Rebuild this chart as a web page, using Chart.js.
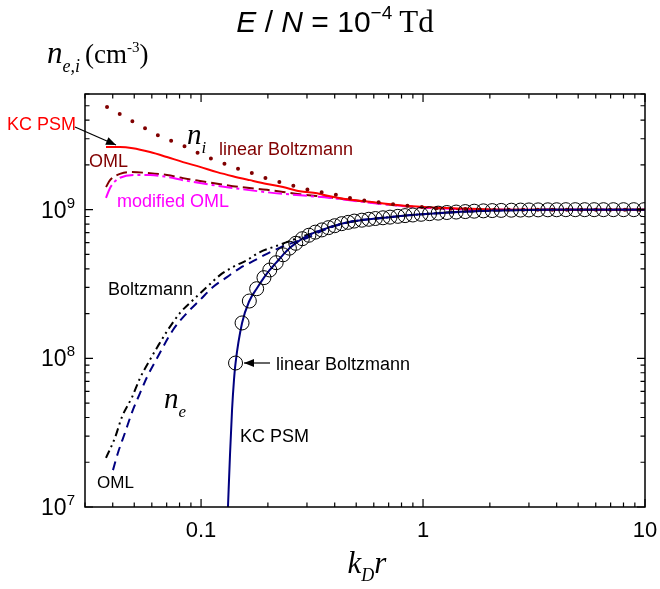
<!DOCTYPE html>
<html><head><meta charset="utf-8">
<script src="https://cdn.jsdelivr.net/npm/chart.js@4/dist/chart.umd.min.js"></script>
<style>html,body{margin:0;padding:0;background:#fff;}</style>
</head><body>
<canvas id="c" width="660" height="589"></canvas>
<script>
// ---- tick labels ----
const xTickLabels = [0.1, 1, 10];
const yTickLabels = [1e7, 1e8, 1e9];

// ---- ion density n_i ----
const niLinBoltzX = [0.0377, 0.0509, 0.0589, 0.0681, 0.0804, 0.0929, 0.107, 0.145, 0.170, 0.200, 0.234, 0.273, 0.327, 0.381, 0.445, 0.531, 0.620, 0.732, 0.855, 1.02, 1.18, 1.5, 2, 3, 5, 10];
const niLinBoltzY = [4.90e9, 3.82e9, 3.38e9, 3.03e9, 2.76e9, 2.48e9, 2.26e9, 1.90e9, 1.76e9, 1.61e9, 1.51e9, 1.42e9, 1.33e9, 1.29e9, 1.215e9, 1.16e9, 1.125e9, 1.09e9, 1.06e9, 1.04e9, 1.02e9, 1.01e9, 1.0e9, 1e9, 1e9, 1e9];

const niKcX = [0.0373, 0.0431, 0.0493, 0.0589, 0.0702, 0.0829, 0.0989, 0.118, 0.139, 0.166, 0.198, 0.234, 0.279, 0.333, 0.381, 0.445, 0.640, 0.855, 1.47, 2.5, 5, 10];
const niKcY = [2.64e9, 2.64e9, 2.59e9, 2.44e9, 2.26e9, 2.09e9, 1.94e9, 1.79e9, 1.68e9, 1.58e9, 1.49e9, 1.42e9, 1.33e9, 1.29e9, 1.23e9, 1.18e9, 1.11e9, 1.06e9, 1.02e9, 1.0e9, 1e9, 1e9];

const niOmlX = [0.0373, 0.0389, 0.0409, 0.0431, 0.0478, 0.0589, 0.0702, 0.0829, 0.0989, 0.139, 0.198, 0.279, 0.381, 0.531, 0.75, 1.18, 2, 10];
const niOmlY = [1.42e9, 1.58e9, 1.68e9, 1.74e9, 1.79e9, 1.76e9, 1.71e9, 1.63e9, 1.56e9, 1.44e9, 1.36e9, 1.27e9, 1.21e9, 1.14e9, 1.07e9, 1.02e9, 1.0e9, 1e9];

const niModOmlX = [0.0373, 0.0389, 0.0409, 0.0431, 0.0504, 0.0589, 0.0702, 0.0829, 0.0989, 0.139, 0.198, 0.279, 0.381, 0.531, 0.75, 1.18, 2, 10];
const niModOmlY = [1.20e9, 1.40e9, 1.55e9, 1.64e9, 1.71e9, 1.71e9, 1.66e9, 1.58e9, 1.51e9, 1.40e9, 1.31e9, 1.25e9, 1.20e9, 1.13e9, 1.07e9, 1.02e9, 1.0e9, 1e9];

// ---- electron density n_e ----
const neKcX = [0.1322, 0.135, 0.1379, 0.1407, 0.143, 0.153, 0.165, 0.178, 0.192, 0.204, 0.218, 0.234, 0.25, 0.267, 0.286, 0.306, 0.327, 0.35, 0.375, 0.40, 0.43, 0.46, 0.49, 0.53, 0.61, 0.71, 0.83, 0.98, 1.17, 1.41, 1.70, 2.05, 2.5, 3.0, 4.0, 6.0, 10];
const neKcY = [1.0e7, 2.24e7, 4.49e7, 7.15e7, 9.3e7, 1.73e8, 2.43e8, 2.94e8, 3.49e8, 3.93e8, 4.40e8, 4.97e8, 5.51e8, 5.94e8, 6.38e8, 6.73e8, 7.06e8, 7.31e8, 7.57e8, 7.80e8, 8.05e8, 8.22e8, 8.38e8, 8.50e8, 8.72e8, 8.91e8, 9.12e8, 9.31e8, 9.48e8, 9.64e8, 9.77e8, 9.86e8, 9.92e8, 9.96e8, 9.99e8, 1e9, 1e9];

const neLinBoltzX = [0.143, 0.153, 0.165, 0.178, 0.192, 0.204, 0.218, 0.234, 0.25, 0.267, 0.286, 0.306, 0.327, 0.35, 0.375, 0.40, 0.43, 0.46, 0.49, 0.53, 0.57, 0.61, 0.66, 0.71, 0.77, 0.83, 0.90, 0.98, 1.07, 1.17, 1.28, 1.41, 1.55, 1.70, 1.87, 2.05, 2.25, 2.5, 2.75, 3.0, 3.3, 3.65, 4.0, 4.4, 4.85, 5.35, 5.9, 6.5, 7.2, 8.0, 8.9, 9.9];
const neLinBoltzY = [9.3e7, 1.73e8, 2.43e8, 2.94e8, 3.49e8, 3.93e8, 4.40e8, 4.97e8, 5.51e8, 5.94e8, 6.38e8, 6.73e8, 7.06e8, 7.31e8, 7.57e8, 7.80e8, 8.05e8, 8.22e8, 8.38e8, 8.50e8, 8.62e8, 8.72e8, 8.82e8, 8.91e8, 9.02e8, 9.12e8, 9.21e8, 9.31e8, 9.40e8, 9.48e8, 9.57e8, 9.64e8, 9.71e8, 9.77e8, 9.82e8, 9.86e8, 9.89e8, 9.92e8, 9.94e8, 9.96e8, 9.97e8, 9.98e8, 9.99e8, 1e9, 1e9, 1e9, 1e9, 1e9, 1e9, 1e9, 1e9, 1e9];

const neOmlX = [0.0401, 0.0422, 0.0454, 0.0489, 0.0531, 0.0571, 0.0633, 0.0747, 0.0864, 0.0989, 0.1132, 0.1308, 0.1497, 0.1714, 0.198, 0.2267, 0.2594, 0.300, 0.35, 0.40, 0.49, 0.61, 0.83, 1.17, 1.70, 2.5, 4.0, 10];
const neOmlY = [1.77e7, 2.31e7, 3.15e7, 4.35e7, 5.84e7, 7.49e7, 1.0e8, 1.55e8, 2.02e8, 2.47e8, 3.02e8, 3.52e8, 4.05e8, 4.50e8, 5.05e8, 5.55e8, 6.0e8, 6.45e8, 7.2e8, 7.75e8, 8.38e8, 8.72e8, 9.12e8, 9.48e8, 9.77e8, 9.92e8, 9.99e8, 1e9];

const neBoltzX = [0.0373, 0.0409, 0.0440, 0.0489, 0.0531, 0.0589, 0.0633, 0.0702, 0.0804, 0.0920, 0.1063, 0.1217, 0.139, 0.161, 0.1842, 0.211, 0.2438, 0.279, 0.319, 0.369, 0.43, 0.53, 0.71, 0.98, 1.41, 2.05, 3.0, 4.4, 10];
const neBoltzY = [2.14e7, 2.91e7, 4.03e7, 5.49e7, 7.37e7, 9.8e7, 1.18e8, 1.52e8, 2.02e8, 2.47e8, 3.02e8, 3.63e8, 4.11e8, 4.58e8, 5.19e8, 5.60e8, 6.05e8, 6.54e8, 6.96e8, 7.52e8, 8.05e8, 8.50e8, 8.91e8, 9.31e8, 9.64e8, 9.86e8, 9.96e8, 1e9, 1e9];

const pts = (xs, ys) => xs.map((v, i) => ({x: v, y: ys[i]}));

function line(label, xs, ys, color, dash, width, order, extra) {
  return Object.assign({
    label, data: pts(xs, ys), showLine: true, borderColor: color, backgroundColor: color,
    borderWidth: width, borderDash: dash, pointRadius: 0, pointHoverRadius: 0,
    cubicInterpolationMode: 'monotone', order, fill: false
  }, extra || {});
}

const datasets = [
  {label: 'n_e linear Boltzmann', data: pts(neLinBoltzX, neLinBoltzY), showLine: false,
   pointRadius: 7, pointStyle: 'circle', pointBorderColor: '#000', pointBackgroundColor: 'rgba(0,0,0,0)',
   pointBorderWidth: 1, borderColor: '#000', order: 0},
  line('n_e KC PSM', neKcX, neKcY, '#000080', [], 2, 1),
  line('n_i linear Boltzmann', niLinBoltzX, niLinBoltzY, '#800000', [0, 14.5], 4, 2, {borderCapStyle: 'round'}),
  line('n_i KC PSM', niKcX, niKcY, '#ff0000', [], 2, 3),
  line('n_i modified OML', niModOmlX, niModOmlY, '#ff00ff', [14, 4, 3, 4], 2, 4),
  line('n_i OML', niOmlX, niOmlY, '#800000', [11, 5], 2, 5),
  line('n_e Boltzmann', neBoltzX, neBoltzY, '#000000', [8, 4, 2, 4, 2, 4], 2, 6),
  line('n_e OML', neOmlX, neOmlY, '#000080', [9, 6], 2, 7)
];

function rich(ctx, parts, x, y, align) {
  let w = 0;
  parts.forEach(p => { ctx.font = p[1]; w += ctx.measureText(p[0]).width + (p[3] || 0); });
  let cx = align === 'center' ? x - w / 2 : (align === 'right' ? x - w : x);
  ctx.textAlign = 'left';
  parts.forEach(p => { ctx.font = p[1]; ctx.fillText(p[0], cx, y + (p[2] || 0)); cx += ctx.measureText(p[0]).width + (p[3] || 0); });
}

function arrow(ctx, x1, y1, x2, y2) {
  ctx.beginPath(); ctx.moveTo(x1, y1); ctx.lineTo(x2, y2); ctx.lineWidth = 1.2; ctx.stroke();
  const ang = Math.atan2(y2 - y1, x2 - x1), L = 10, W = 4;
  ctx.beginPath();
  ctx.moveTo(x2, y2);
  ctx.lineTo(x2 - L * Math.cos(ang) + W * Math.sin(ang), y2 - L * Math.sin(ang) - W * Math.cos(ang));
  ctx.lineTo(x2 - L * Math.cos(ang) - W * Math.sin(ang), y2 - L * Math.sin(ang) + W * Math.cos(ang));
  ctx.closePath(); ctx.fill();
}

const SANS = '"Liberation Sans", Arial, sans-serif';
const SERIF = '"Liberation Serif", "Times New Roman", serif';

const decor = {
  id: 'decor',
  afterDraw(chart) {
    const {ctx, chartArea: a, scales: {x, y}} = chart;
    ctx.save();
    ctx.strokeStyle = '#000'; ctx.fillStyle = '#000';
    ctx.lineWidth = 1.5;
    ctx.strokeRect(a.left, a.top, a.right - a.left, a.bottom - a.top);
    ctx.lineWidth = 1.2;
    // x ticks (inside, bottom and top)
    for (let e = -2; e <= 1; e++) {
      for (let m = 1; m <= 9; m++) {
        const v = m * Math.pow(10, e);
        if (v < x.min * 0.999 || v > x.max * 1.001) continue;
        const px = x.getPixelForValue(v);
        const len = m === 1 ? 8 : 4.5;
        ctx.beginPath();
        ctx.moveTo(px, a.bottom); ctx.lineTo(px, a.bottom - len);
        ctx.moveTo(px, a.top); ctx.lineTo(px, a.top + len);
        ctx.stroke();
      }
    }
    // y ticks (inside, left and right)
    for (let e = 7; e <= 9; e++) {
      for (let m = 1; m <= 9; m++) {
        const v = m * Math.pow(10, e);
        if (v < y.min * 0.999 || v > y.max * 1.001) continue;
        const py = y.getPixelForValue(v);
        const len = m === 1 ? 8 : 4.5;
        ctx.beginPath();
        ctx.moveTo(a.left, py); ctx.lineTo(a.left + len, py);
        ctx.moveTo(a.right, py); ctx.lineTo(a.right - len, py);
        ctx.stroke();
      }
    }
    // tick labels
    ctx.textBaseline = 'alphabetic';
    ctx.font = '22px ' + SANS;
    xTickLabels.forEach(v => {
      ctx.textAlign = 'center';
      ctx.fillText(String(v), x.getPixelForValue(v), a.bottom + 30);
    });
    yTickLabels.forEach(v => {
      const ex = Math.round(Math.log10(v));
      rich(ctx, [['10', '23px ' + SANS], [String(ex), '15px ' + SANS, -10]], a.left - 10, y.getPixelForValue(v) + 8, 'right');
    });
    // title
    rich(ctx, [
      ['E', 'italic 30px ' + SANS], [' / ', '30px ' + SANS], ['N', 'italic 30px ' + SANS],
      [' = 10', '30px ' + SANS], ['\u22124', '19px ' + SANS, -13, 7], ['Td', '31px ' + SERIF]
    ], 335, 32, 'center');
    // y axis title
    rich(ctx, [
      ['n', 'italic 31px ' + SERIF], ['e,i', 'italic 18px ' + SERIF, 9, 5],
      ['(cm', '27px ' + SERIF], ['-3', '15px ' + SERIF, -11], [')', '27px ' + SERIF]
    ], 47, 63, 'left');
    // x axis title
    rich(ctx, [
      ['k', 'italic 31px ' + SERIF], ['D', 'italic 18px ' + SERIF, 8], ['r', 'italic 31px ' + SERIF]
    ], 367, 573, 'center');

    // annotations
    ctx.font = '18px ' + SANS;
    ctx.textAlign = 'left';
    ctx.fillStyle = '#ff0000'; ctx.fillText('KC PSM', 7, 130);
    ctx.fillStyle = '#800000'; ctx.fillText('OML', 89, 167);
    ctx.fillText('linear Boltzmann', 219, 155);
    ctx.fillStyle = '#ff00ff'; ctx.fillText('modified OML', 117, 207);
    ctx.fillStyle = '#000';
    ctx.fillText('Boltzmann', 108, 295);
    ctx.fillText('linear Boltzmann', 276, 370);
    ctx.fillText('KC PSM', 240, 442);
    ctx.font = '17px ' + SANS;
    ctx.fillText('OML', 97, 488);
    rich(ctx, [['n', 'italic 29px ' + SERIF], ['i', 'italic 17px ' + SERIF, 9]], 187, 144, 'left');
    rich(ctx, [['n', 'italic 29px ' + SERIF], ['e', 'italic 17px ' + SERIF, 9]], 164, 408, 'left');
    ctx.strokeStyle = '#000'; ctx.fillStyle = '#000';
    arrow(ctx, 75, 127, 116, 145);
    arrow(ctx, 270, 363, 244, 363);
    ctx.restore();
  }
};

new Chart(document.getElementById('c'), {
  type: 'scatter',
  data: {datasets},
  options: {
    responsive: false, animation: false, devicePixelRatio: 1,
    layout: {padding: {left: 85, right: 15, top: 94, bottom: 82}},
    plugins: {legend: {display: false}, tooltip: {enabled: false}, title: {display: false}},
    scales: {
      x: {type: 'logarithmic', min: 0.03, max: 10, display: false},
      y: {type: 'logarithmic', min: 1e7, max: 6e9, display: false}
    }
  },
  plugins: [decor]
});
</script>
</body></html>
